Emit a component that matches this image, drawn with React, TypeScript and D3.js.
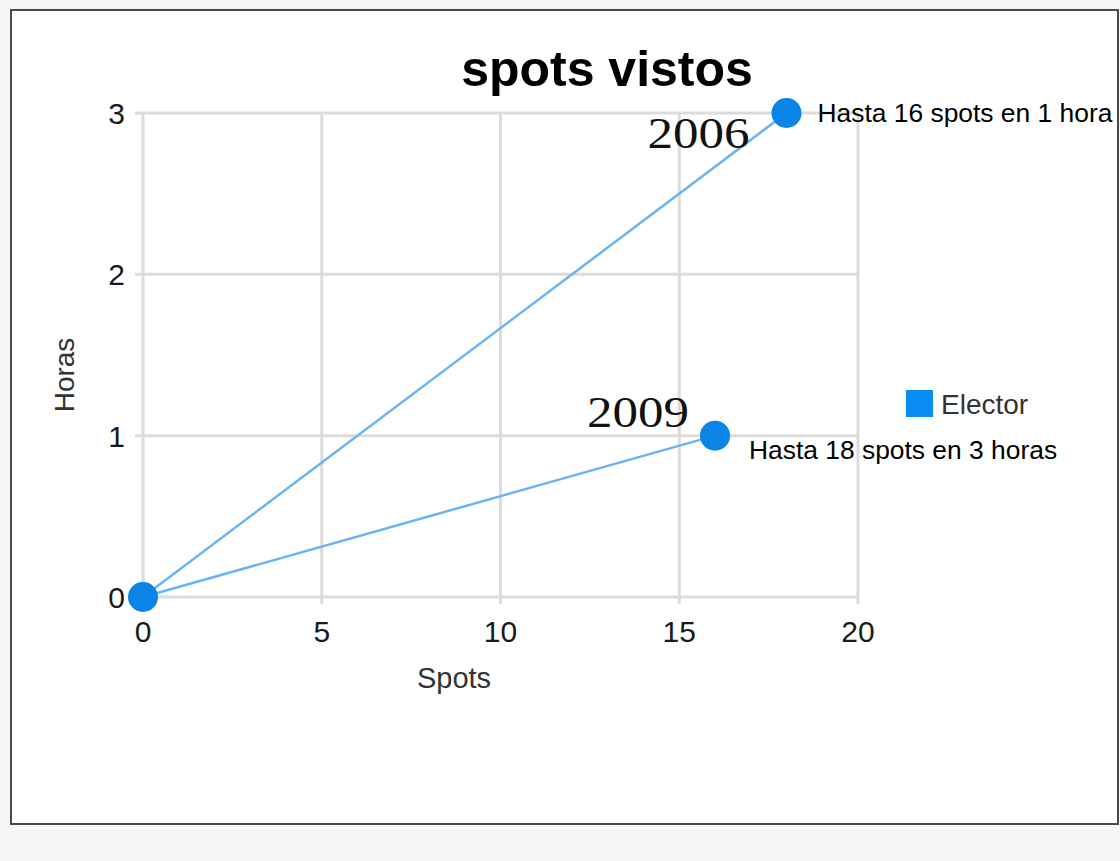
import React from "react";
import * as d3 from "d3";

const title = "spots vistos";
const xTicks = [0, 5, 10, 15, 20];
const yTicks = [0, 1, 2, 3];
const seriesName = "Elector";
const spots = [18, 0, 16];
const horas = [3, 0, 1];
const yearLabels = ["2006", "", "2009"];
const noteLabels = ["Hasta 16 spots en 1 hora", "", "Hasta 18 spots en 3 horas"];
const xTitle = "Spots";
const yTitle = "Horas";

const W = 1120;
const H = 861;
const sans = "Arial, 'Liberation Sans', Helvetica, sans-serif";
const serif = "'Liberation Serif', 'Times New Roman', serif";

export default function App() {
  const x = d3.scaleLinear().domain([0, 20]).range([143, 858]);
  const y = d3.scaleLinear().domain([0, 3]).range([597, 113]);
  const pts = spots.map((s, i) => ({ x: s, y: horas[i], year: yearLabels[i], note: noteLabels[i] }));
  const line = d3
    .line<{ x: number; y: number }>()
    .x((d) => x(d.x))
    .y((d) => y(d.y));
  const yearDx = [-37, 0, -26];
  const yearDy = [35, 0, -9];
  const noteDx = [31, 0, 34];
  const noteDy = [9, 0, 23];

  return (
    <svg
      width={W}
      height={H}
      style={{ position: "absolute", left: 0, top: 0, display: "block" }}
    >
      <rect x={0} y={0} width={W} height={H} fill="#f6f6f6" />
      <rect x={11} y={10} width={1107} height={814} fill="#ffffff" stroke="#4a4a4a" strokeWidth={2} />
      <text
        x={607}
        y={86}
        textAnchor="middle"
        fontFamily={sans}
        fontWeight="bold"
        fontSize={50}
        fill="#000"
      >
        {title}
      </text>
      {/* gridlines */}
      {xTicks.map((t) => (
        <line key={"gx" + t} x1={x(t)} x2={x(t)} y1={y(3)} y2={y(0) + 7} stroke="#dcdcdc" strokeWidth={3} />
      ))}
      {yTicks.map((t) => (
        <line key={"gy" + t} x1={x(0) - 8} x2={x(20)} y1={y(t)} y2={y(t)} stroke="#dcdcdc" strokeWidth={3} />
      ))}
      {/* tick labels */}
      {xTicks.map((t) => (
        <text
          key={"tx" + t}
          x={x(t)}
          y={642}
          textAnchor="middle"
          fontFamily={sans}
          fontSize={30}
          fill="#1a1a1a"
        >
          {t}
        </text>
      ))}
      {yTicks.map((t) => (
        <text
          key={"ty" + t}
          x={125}
          y={y(t) + 11}
          textAnchor="end"
          fontFamily={sans}
          fontSize={30}
          fill="#1a1a1a"
        >
          {t}
        </text>
      ))}
      <text x={454} y={688} textAnchor="middle" fontFamily={sans} fontSize={29} fill="#333">
        {xTitle}
      </text>
      <text
        transform={`translate(74,375) rotate(-90)`}
        textAnchor="middle"
        fontFamily={sans}
        fontSize={28}
        fill="#333"
      >
        {yTitle}
      </text>
      {/* series line */}
      <path d={line(pts) || ""} fill="none" stroke="#6ab4f6" strokeWidth={2.5} />
      {pts.map((p, i) => (
        <circle key={"c" + i} cx={x(p.x)} cy={y(p.y)} r={15} fill="#0a84e6" />
      ))}
      {/* annotations */}
      {pts.map((p, i) =>
        p.year ? (
          <text
            key={"yr" + i}
            x={x(p.x) + yearDx[i]}
            y={y(p.y) + yearDy[i]}
            textAnchor="end"
            fontFamily={serif}
            fontSize={44}
            textLength={102}
            lengthAdjust="spacingAndGlyphs"
            fill="#111"
          >
            {p.year}
          </text>
        ) : null
      )}
      {pts.map((p, i) =>
        p.note ? (
          <text
            key={"nt" + i}
            x={x(p.x) + noteDx[i]}
            y={y(p.y) + noteDy[i]}
            textAnchor="start"
            fontFamily={sans}
            fontSize={26.4}
            fill="#000"
          >
            {p.note}
          </text>
        ) : null
      )}
      {/* legend */}
      <rect x={906} y={390} width={27} height={27} fill="#0a8cf5" />
      <text x={941} y={414} fontFamily={sans} fontSize={28} fill="#333">
        {seriesName}
      </text>
    </svg>
  );
}
